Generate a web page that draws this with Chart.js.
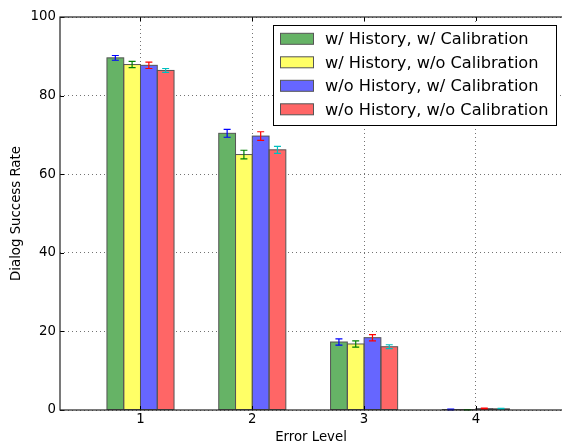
<!DOCTYPE html>
<html>
<head>
<meta charset="utf-8">
<script src="https://cdn.jsdelivr.net/npm/chart.js@4/dist/chart.umd.min.js"></script>
<style>
  html, body { margin: 0; padding: 0; background: #fff; overflow: hidden; }
  #wrap { width: 562px; height: 442px; overflow: hidden; }
  canvas { display: block; }
</style>
</head>
<body>
<div id="wrap"><canvas id="chart" width="566" height="442"></canvas></div>
<script>
// Error levels on the x axis
const levels = [1, 2, 3, 4];
const yTickValues = [0, 20, 40, 60, 80, 100];

const seriesLabels = [
  'w/ History, w/ Calibration',
  'w/ History, w/o Calibration',
  'w/o History, w/ Calibration',
  'w/o History, w/o Calibration'
];

// Dialog success rate (%) per error level
const histCal     = [89.6, 70.4, 17.3, 0.10];
const histNoCal   = [87.9, 65.0, 16.8, 0.05];
const noHistCal   = [87.7, 69.7, 18.4, 0.35];
const noHistNoCal = [86.4, 66.2, 16.1, 0.30];

// Standard error of each rate
const histCalErr     = [0.6, 1.0, 0.8, 0.10];
const histNoCalErr   = [0.8, 1.1, 0.8, 0.05];
const noHistCalErr   = [0.8, 1.1, 0.8, 0.15];
const noHistNoCalErr = [0.5, 0.9, 0.5, 0.10];

const fills       = ['#66b366', '#ffff66', '#6666ff', '#ff6666'];
const errorColors = ['#0000ff', '#008000', '#ff0000', '#00bfbf'];
const values = [histCal, histNoCal, noHistCal, noHistNoCal];
const errors = [histCalErr, histNoCalErr, noHistCalErr, noHistNoCalErr];

const EDGE = '#555';
const FONT = '"DejaVu Sans", sans-serif';

const datasets = values.map((vals, i) => ({
  label: seriesLabels[i],
  data: levels.map((lv, j) => ({ x: lv, y: vals[j] })),
  errors: errors[i],
  errorColor: errorColors[i],
  backgroundColor: fills[i],
  borderWidth: 0,
  inflateAmount: 0,
  categoryPercentage: 0.6,
  barPercentage: 1.0
}));

// Bar edges, error bars, frame, inward ticks, axis titles and the legend box
const decorations = {
  id: 'decorations',
  afterDatasetsDraw(chart) {
    const { ctx, chartArea: a, scales: { x, y } } = chart;
    ctx.save();

    // bar edges, stroked on the bar boundary so neighbours share one line
    ctx.strokeStyle = EDGE;
    ctx.lineWidth = 1;
    chart.data.datasets.forEach((ds, di) => {
      chart.getDatasetMeta(di).data.forEach(bar => {
        const { x: bx, y: by, base, width } = bar.getProps(['x', 'y', 'base', 'width'], true);
        ctx.strokeRect(bx - width / 2, by, width, base - by);
      });
    });

    // error bars
    chart.data.datasets.forEach((ds, di) => {
      const meta = chart.getDatasetMeta(di);
      meta.data.forEach((bar, j) => {
        const v = ds.data[j].y, e = ds.errors[j];
        const yt = y.getPixelForValue(v + e);
        const yb = y.getPixelForValue(v - e);
        const cx = bar.x;
        ctx.strokeStyle = ds.errorColor;
        ctx.lineWidth = 1.2;
        ctx.beginPath();
        ctx.moveTo(cx, yt); ctx.lineTo(cx, yb);
        ctx.moveTo(cx - 3.5, yt); ctx.lineTo(cx + 3.5, yt);
        ctx.moveTo(cx - 3.5, yb); ctx.lineTo(cx + 3.5, yb);
        ctx.stroke();
      });
    });

    // inward ticks
    ctx.strokeStyle = '#000';
    ctx.lineWidth = 1;
    ctx.beginPath();
    yTickValues.forEach(v => {
      const py = Math.round(y.getPixelForValue(v)) + 0.5;
      ctx.moveTo(a.left, py); ctx.lineTo(a.left + 4, py);
      ctx.moveTo(a.right, py); ctx.lineTo(a.right - 4, py);
    });
    levels.forEach(v => {
      const px = Math.round(x.getPixelForValue(v)) + 0.5;
      ctx.moveTo(px, a.bottom); ctx.lineTo(px, a.bottom - 4);
      ctx.moveTo(px, a.top); ctx.lineTo(px, a.top + 4);
    });
    ctx.stroke();

    // frame
    ctx.strokeStyle = '#222';
    ctx.lineWidth = 1.2;
    ctx.strokeRect(a.left, a.top, a.right - a.left, a.bottom - a.top);

    // axis titles
    ctx.fillStyle = '#000';
    ctx.font = '13.3px ' + FONT;
    ctx.textAlign = 'center';
    ctx.textBaseline = 'alphabetic';
    ctx.fillText('Error Level', (a.left + 562) / 2, 441);
    ctx.save();
    ctx.translate(20, (a.top + a.bottom) / 2);
    ctx.rotate(-Math.PI / 2);
    ctx.fillText('Dialog Success Rate', 0, 0);
    ctx.restore();

    // legend
    const lx = 273.5, ly = 25.5, lw = 283, lh = 100;
    ctx.fillStyle = '#fff';
    ctx.fillRect(lx, ly, lw, lh);
    ctx.strokeStyle = '#000';
    ctx.lineWidth = 1;
    ctx.strokeRect(lx, ly, lw, lh);
    ctx.font = '16.2px ' + FONT;
    ctx.textAlign = 'left';
    ctx.textBaseline = 'middle';
    chart.data.datasets.forEach((ds, i) => {
      const cy = 38.8 + i * 23.5;
      ctx.fillStyle = ds.backgroundColor;
      ctx.fillRect(280.5, cy - 5.5, 33, 11);
      ctx.strokeStyle = EDGE;
      ctx.strokeRect(280.5, cy - 5.5, 33, 11);
      ctx.fillStyle = '#000';
      ctx.fillText(ds.label, 325, cy + 1);
    });

    ctx.restore();
  }
};

new Chart(document.getElementById('chart'), {
  type: 'bar',
  data: { datasets },
  options: {
    responsive: false,
    animation: false,
    layout: { padding: { top: 17, right: 0, left: 0, bottom: 0 } },
    plugins: { legend: { display: false }, tooltip: { enabled: false } },
    scales: {
      x: {
        type: 'linear',
        offset: false,
        min: 0.28,
        max: 4.806,
        afterBuildTicks: s => { s.ticks = levels.map(v => ({ value: v })); },
        afterFit: s => { s.height = 32; },
        ticks: {
          color: '#000',
          font: { family: FONT, size: 13.3 },
          padding: 2,
          maxRotation: 0,
          callback: v => String(v)
        },
        grid: { color: 'rgba(0,0,0,0.55)', lineWidth: 1, drawTicks: false, offset: false },
        border: { display: false, dash: [1, 3] }
      },
      y: {
        min: 0,
        max: 100,
        afterBuildTicks: s => { s.ticks = yTickValues.map(v => ({ value: v })); },
        afterFit: s => { s.width = 60; },
        ticks: {
          color: '#000',
          font: { family: FONT, size: 13.3 },
          padding: 4
        },
        grid: { color: 'rgba(0,0,0,0.55)', lineWidth: 1, drawTicks: false },
        border: { display: false, dash: [1, 3] }
      }
    }
  },
  plugins: [decorations]
});
</script>
</body>
</html>
